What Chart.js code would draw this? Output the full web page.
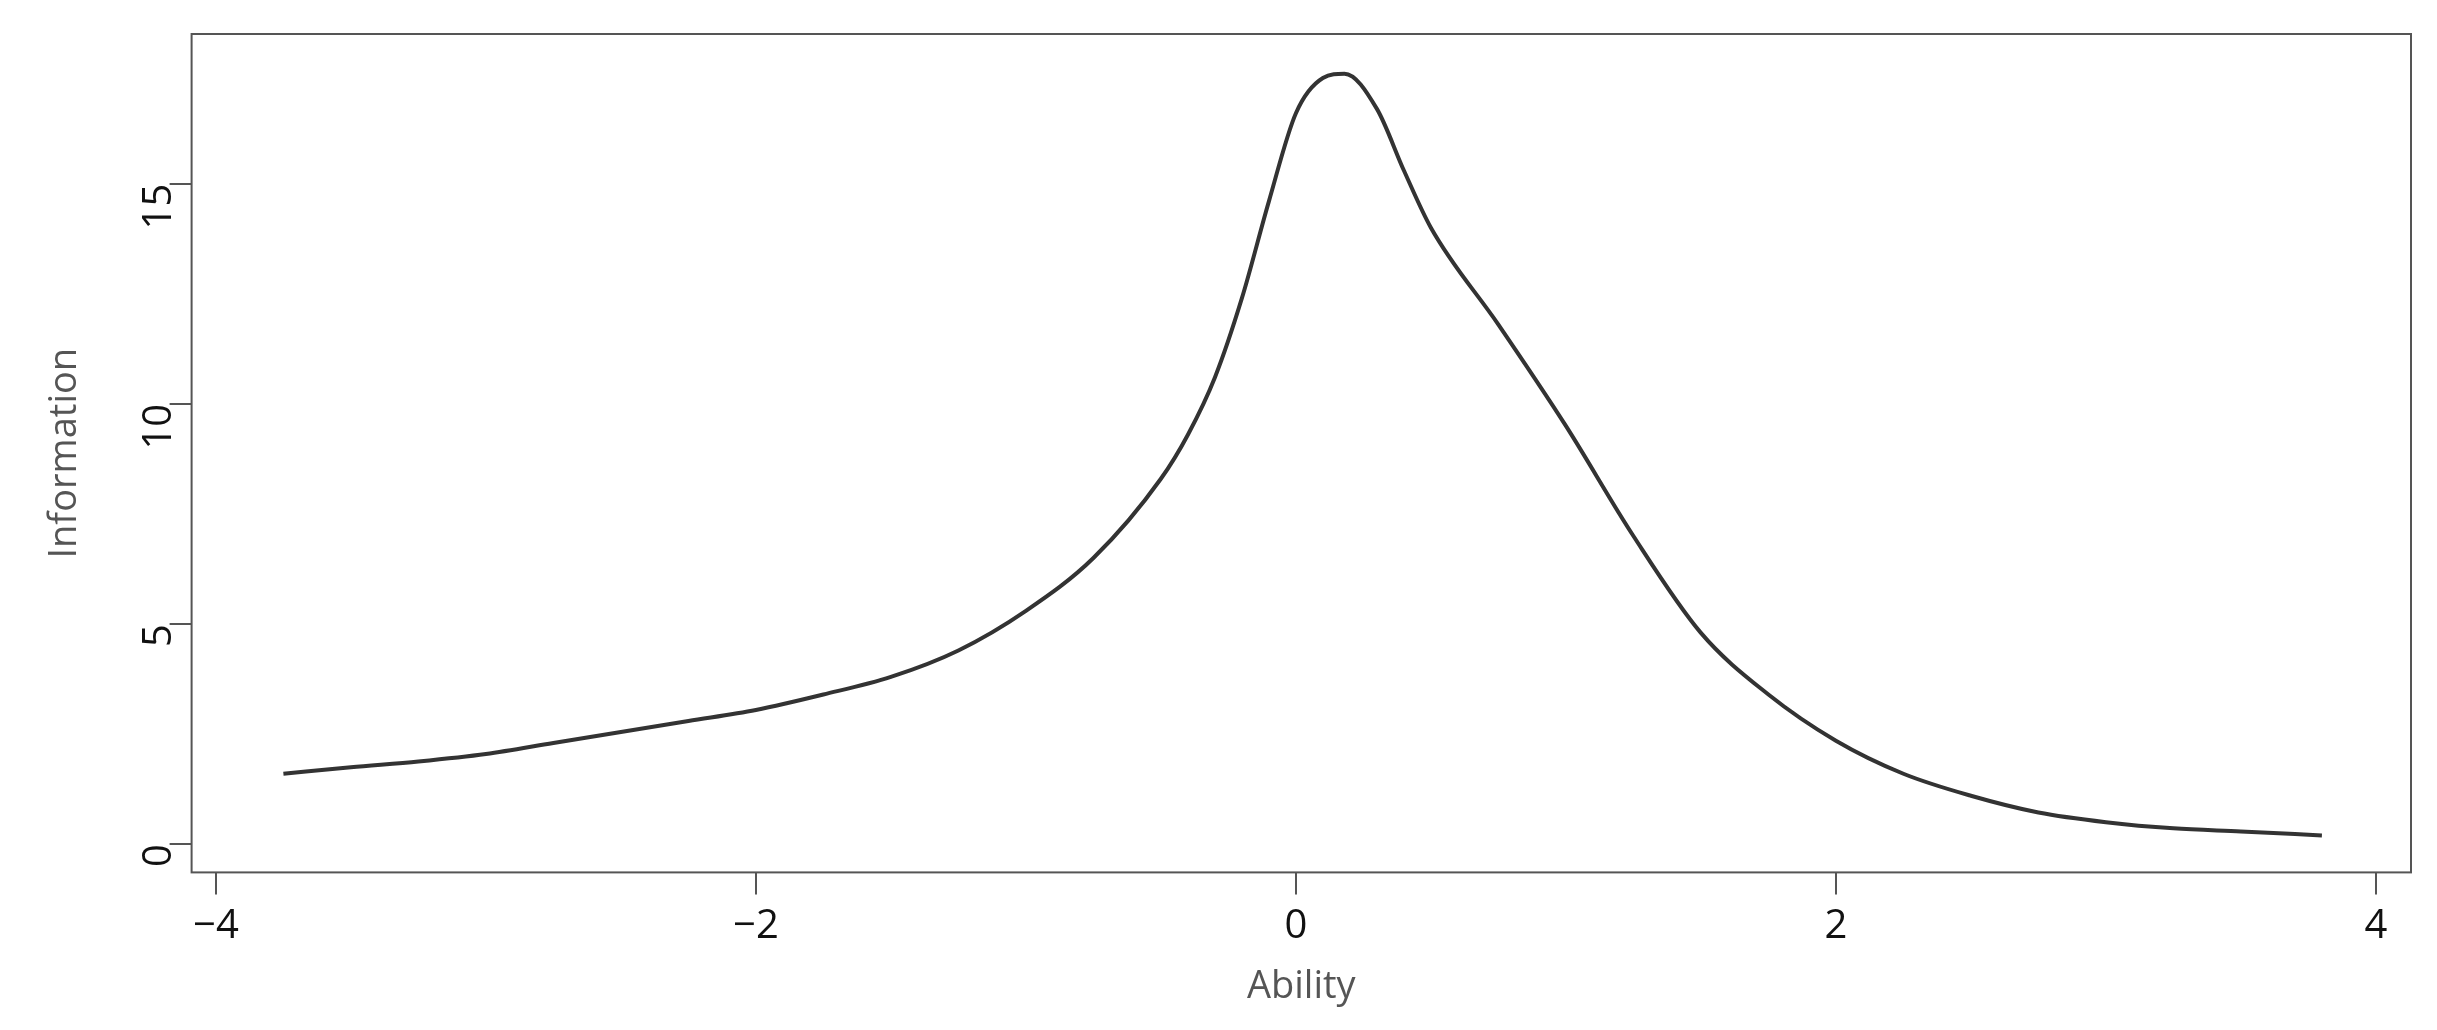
<!DOCTYPE html>
<html><head><meta charset="utf-8">
<script src="https://cdn.jsdelivr.net/npm/chart.js@4"></script>
<style>html,body{margin:0;padding:0;background:#fff}#w{width:2437px;height:1030px}</style>
</head><body><div id="w"><canvas id="c"></canvas></div>
<script>
const abilityX = [-3.75,-3.5,-3.25,-3,-2.75,-2.5,-2.25,-2,-1.75,-1.5,-1.25,-1,-0.75,-0.5,-0.4,-0.3,-0.2,-0.1,0,0.1,0.18,0.3,0.4,0.5,0.75,1,1.25,1.5,1.75,2,2.25,2.5,2.75,3,3.25,3.5,3.8];
const informationY = [1.6,1.75,1.88,2.05,2.3,2.55,2.8,3.05,3.4,3.8,4.4,5.3,6.5,8.3,9.3,10.6,12.4,14.6,16.6,17.4,17.5,16.7,15.3,14.0,11.8,9.5,7.0,4.8,3.4,2.35,1.6,1.1,0.72,0.5,0.36,0.29,0.2];
const xTicks = [-4,-2,0,2,4];
const yTicks = [0,5,10,15];
const pts = abilityX.map((x,i)=>({x, y: informationY[i]}));
const boxPlugin = {id:'box', afterDraw(ch){const {ctx,chartArea:a}=ch;ctx.save();ctx.strokeStyle='#555';ctx.lineWidth=2;ctx.strokeRect(a.left,a.top,a.right-a.left,a.bottom-a.top);ctx.restore();}};
new Chart(document.getElementById('c'),{
  type:'line',
  data:{datasets:[{data:pts,borderColor:'#333',borderWidth:4,pointRadius:0,tension:0.25,cubicInterpolationMode:'monotone',fill:false}]},
  options:{responsive:true,maintainAspectRatio:false,animation:false,
    layout:{padding:{top:22,right:26,left:38,bottom:16}},
    plugins:{legend:{display:false},tooltip:{enabled:false}},
    scales:{
      x:{type:'linear',min:-4.09,max:4.13,
        afterBuildTicks:s=>{s.ticks=xTicks.map(v=>({value:v}));},
        grid:{drawOnChartArea:false,tickLength:22,color:'#555',lineWidth:2},border:{display:false},
        ticks:{color:'#111',font:{family:'Open Sans',size:40},padding:8,callback:v=>v<0?'\u2212'+(-v):v},
        title:{display:true,text:'Ability',color:'#555',font:{family:'Open Sans',size:38},padding:{top:6}}},
      y:{type:'linear',min:-0.64,max:18.4,
        afterBuildTicks:s=>{s.ticks=yTicks.map(v=>({value:v}));},
        grid:{drawOnChartArea:false,tickLength:22,color:'#555',lineWidth:2},border:{display:false},
        ticks:{color:'#111',font:{family:'Open Sans',size:40},padding:10,maxRotation:90,minRotation:90},
        title:{display:true,text:'Information',color:'#555',font:{family:'Open Sans',size:38},padding:{bottom:14}}}
    }},
  plugins:[boxPlugin]
});
</script></body></html>
